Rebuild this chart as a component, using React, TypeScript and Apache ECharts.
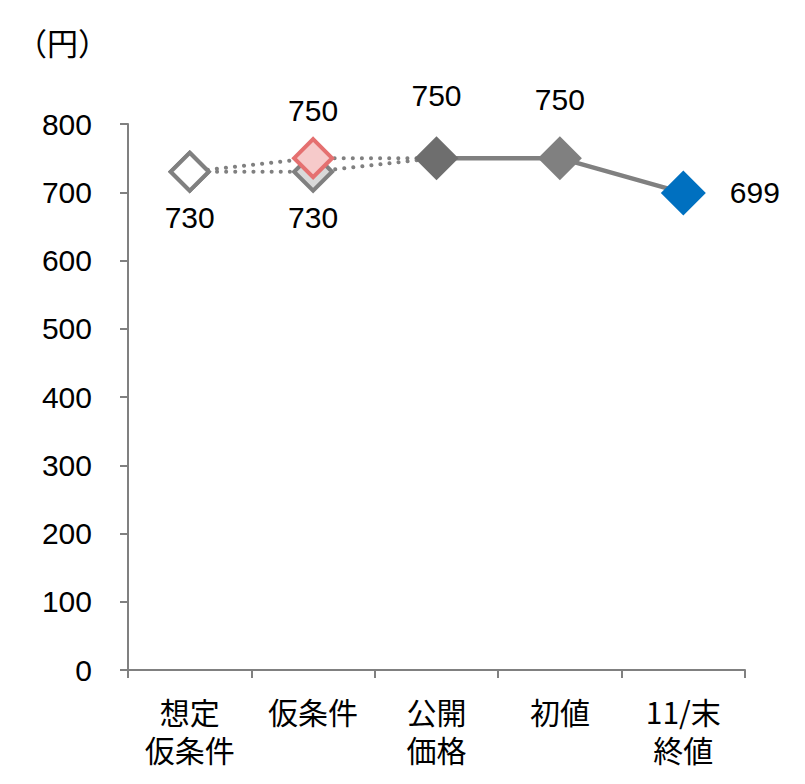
import React, { useEffect, useRef } from "react";
import * as echarts from "echarts";

const categories = ["想定\n仮条件", "仮条件", "公開\n価格", "初値", "11/末\n終値"];
const lowerRange: (number | null)[] = [730, 730, 750, null, null];
const upperRange: (number | null)[] = [730, 750, 750, null, null];
const actualPrices: (number | null)[] = [null, null, 750, 750, 699];
const yTicks = { min: 0, max: 800, interval: 100 };
const unitLabel = "（円）";

const NUM_FONT = "'Liberation Sans', Arial, sans-serif";
const CJK_FONT = "'Noto Sans CJK JP', 'Noto Sans', sans-serif";
const GREY = "#808080";

type Style = {
  symbol?: string;
  size?: number;
  fill?: string;
  border?: string;
  borderWidth?: number;
  label?: { position: string; distance: number } | null;
};

const lowerStyles: Style[] = [
  { size: 38, fill: "#ffffff", border: GREY, borderWidth: 4, label: { position: "bottom", distance: 10 } },
  { size: 38, fill: "#d9d9d9", border: GREY, borderWidth: 4, label: { position: "bottom", distance: 10 } },
  { symbol: "none" },
  {},
  {},
];
const upperStyles: Style[] = [
  { size: 38, fill: "#ffffff", border: GREY, borderWidth: 4 },
  { size: 38, fill: "#f6caca", border: "#e57070", borderWidth: 4, label: { position: "top", distance: 12 } },
  { symbol: "none" },
  {},
  {},
];
const actualStyles: Style[] = [
  {},
  {},
  { size: 44, fill: "#6e6e6e", label: { position: "top", distance: 26 } },
  { size: 44, fill: "#808080", label: { position: "top", distance: 22 } },
  { size: 45, fill: "#0070c0", label: { position: "right", distance: 24 } },
];

function buildData(values: (number | null)[], styles: Style[]) {
  return values.map((v, i) => {
    const s = styles[i] || {};
    if (v === null) return { value: null };
    return {
      value: v,
      symbol: s.symbol || "diamond",
      symbolSize: s.size || 40,
      itemStyle: {
        color: s.fill || "#ffffff",
        borderColor: s.border || s.fill || GREY,
        borderWidth: s.borderWidth || 0,
        opacity: 1,
      },
      label: s.label
        ? {
            show: true,
            position: s.label.position,
            distance: s.label.distance,
            formatter: String(v),
            fontFamily: NUM_FONT,
            fontSize: 30,
            color: "#000000",
          }
        : { show: false },
    };
  });
}

export default function App() {
  const ref = useRef<HTMLDivElement>(null);
  useEffect(() => {
    if (!ref.current) return;
    const chart = echarts.init(ref.current, undefined, { renderer: "svg" });
    chart.setOption({
      animation: false,
      backgroundColor: "#ffffff",
      grid: { left: 128, right: 60, top: 124, bottom: 114, containLabel: false },
      graphic: [
        {
          type: "text",
          left: 16,
          top: 26,
          style: { text: unitLabel, fontFamily: CJK_FONT, fontSize: 31, fill: "#000000" },
        },
      ],
      xAxis: {
        type: "category",
        data: categories,
        boundaryGap: true,
        axisLine: { show: true, lineStyle: { color: GREY, width: 2 } },
        axisTick: { show: true, inside: false, length: 8, alignWithLabel: false, lineStyle: { color: GREY, width: 2 } },
        axisLabel: {
          interval: 0,
          margin: 22,
          fontFamily: CJK_FONT,
          fontSize: 30,
          lineHeight: 38,
          color: "#000000",
        },
        splitLine: { show: false },
      },
      yAxis: {
        type: "value",
        min: yTicks.min,
        max: yTicks.max,
        interval: yTicks.interval,
        axisLine: { show: true, lineStyle: { color: GREY, width: 2 } },
        axisTick: { show: true, inside: false, length: 8, lineStyle: { color: GREY, width: 2 } },
        axisLabel: { margin: 36, fontFamily: NUM_FONT, fontSize: 30, color: "#000000" },
        splitLine: { show: false },
      },
      series: [
        {
          type: "line",
          z: 2,
          data: buildData(lowerRange, lowerStyles),
          lineStyle: { color: GREY, width: 4, type: [0.1, 9], cap: "round" },
          connectNulls: false,
          showAllSymbol: true,
        },
        {
          type: "line",
          z: 3,
          data: buildData(upperRange, upperStyles),
          lineStyle: { color: GREY, width: 4, type: [0.1, 9], cap: "round" },
          connectNulls: false,
          showAllSymbol: true,
        },
        {
          type: "line",
          z: 4,
          data: buildData(actualPrices, actualStyles),
          lineStyle: { color: GREY, width: 4.5, type: "solid" },
          connectNulls: false,
          showAllSymbol: true,
        },
      ],
    });
    return () => chart.dispose();
  }, []);
  return <div ref={ref} style={{ width: 805, height: 784, margin: -8 }} />;
}
